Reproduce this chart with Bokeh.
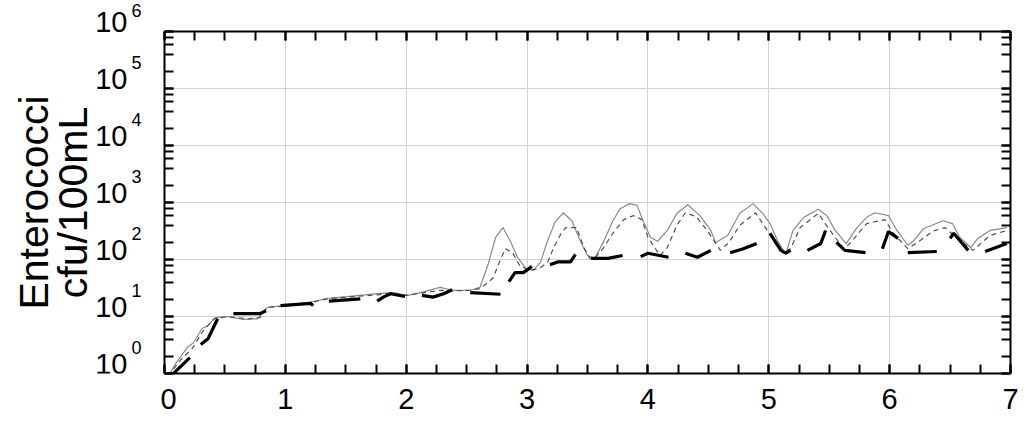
import math
from bokeh.plotting import figure
from bokeh.layouts import row
from bokeh.models import (Range1d, LinearAxis, LogAxis, SingleIntervalTicker, LogTicker,
                          CustomJSTickFormatter, Label)
from bokeh.core.properties import value
from bokeh.embed import file_html
from bokeh.resources import INLINE

nan = float("nan")

# x tick labels and y decade exponents
x_ticks = [0, 1, 2, 3, 4, 5, 6, 7]
y_tick_exponents = [0, 1, 2, 3, 4, 5, 6]
y_title_lines = ["Enterococci", "cfu/100mL"]

# Series A: thin gray solid line (log10 cfu/100mL)
days_a = [0.03, 0.10, 0.19, 0.24, 0.31, 0.36, 0.42, 0.52, 0.65, 0.77, 0.85, 0.98, 1.18, 1.35,
          1.51, 1.76, 1.89, 2.01, 2.12, 2.28, 2.39, 2.53, 2.61, 2.68, 2.74, 2.80, 2.86, 2.92,
          2.99, 3.05, 3.11, 3.17, 3.23, 3.30, 3.37, 3.44, 3.50, 3.56, 3.63, 3.71, 3.77, 3.85,
          3.91, 3.96, 4.02, 4.08, 4.16, 4.24, 4.33, 4.43, 4.52, 4.56, 4.66, 4.76, 4.87, 4.95,
          5.01, 5.08, 5.14, 5.20, 5.29, 5.41, 5.48, 5.55, 5.64, 5.73, 5.81, 5.88, 5.99, 6.06,
          6.15, 6.20, 6.28, 6.44, 6.52, 6.58, 6.67, 6.73, 6.83, 6.97]
log_a = [-0.05, 0.20, 0.46, 0.54, 0.79, 0.84, 0.98, 1.00, 0.95, 0.96, 1.16, 1.19, 1.24, 1.32,
         1.35, 1.40, 1.42, 1.37, 1.42, 1.51, 1.46, 1.46, 1.51, 1.93, 2.39, 2.56, 2.33, 2.04,
         1.84, 1.81, 1.95, 2.33, 2.65, 2.82, 2.68, 2.33, 2.07, 2.02, 2.30, 2.68, 2.89, 2.98,
         2.95, 2.68, 2.39, 2.32, 2.51, 2.81, 2.96, 2.77, 2.51, 2.30, 2.42, 2.81, 2.98, 2.81,
         2.63, 2.30, 2.09, 2.51, 2.74, 2.88, 2.77, 2.51, 2.28, 2.56, 2.74, 2.82, 2.77, 2.51,
         2.25, 2.33, 2.54, 2.68, 2.63, 2.39, 2.21, 2.37, 2.51, 2.56]

# Series B: thin dark dashed line
days_b = [0.03, 0.13, 0.23, 0.32, 0.41, 0.52, 0.69, 0.79, 0.85, 0.98, 1.18, 1.35, 1.51, 1.76,
          1.89, 2.01, 2.12, 2.28, 2.39, 2.53, 2.61, 2.68, 2.72, 2.77, 2.82, 2.88, 2.94, 3.03,
          3.10, 3.17, 3.22, 3.28, 3.32, 3.41, 3.47, 3.52, 3.56, 3.63, 3.71, 3.80, 3.88, 3.95,
          4.00, 4.10, 4.16, 4.24, 4.31, 4.40, 4.49, 4.60, 4.67, 4.76, 4.89, 4.96, 5.05, 5.12,
          5.18, 5.26, 5.41, 5.49, 5.62, 5.67, 5.81, 5.96, 6.03, 6.15, 6.25, 6.36, 6.46, 6.58,
          6.69, 6.83, 6.97]
log_b = [-0.05, 0.23, 0.44, 0.75, 0.96, 1.00, 0.96, 0.98, 1.16, 1.18, 1.23, 1.31, 1.34, 1.38,
         1.41, 1.37, 1.41, 1.46, 1.45, 1.46, 1.49, 1.60, 1.68, 1.95, 2.19, 2.12, 1.89, 1.81,
         1.84, 1.95, 2.21, 2.45, 2.56, 2.56, 2.21, 2.02, 2.02, 2.20, 2.46, 2.70, 2.77, 2.70,
         2.39, 2.07, 2.21, 2.60, 2.82, 2.75, 2.51, 2.16, 2.30, 2.60, 2.82, 2.60, 2.30, 2.12,
         2.19, 2.56, 2.81, 2.56, 2.19, 2.28, 2.63, 2.70, 2.46, 2.19, 2.33, 2.50, 2.56, 2.33,
         2.16, 2.42, 2.51]

# Series C: thick black broken line (nan = gap)
days_c = [0.05, 0.21, nan, 0.30, 0.36, 0.44, nan, 0.57, 0.79, 0.84, nan, 0.96, 1.21, 1.23, nan,
          1.36, 1.62, nan, 1.76, 1.81, 1.87, 1.99, nan, 2.13, 2.22, 2.31, 2.38, nan, 2.53, 2.78,
          nan, 2.85, 2.90, 2.97, 3.04, nan, 3.19, 3.26, 3.36, 3.40, nan, 3.53, 3.67, 3.79, nan,
          3.94, 4.00, 4.17, nan, 4.31, 4.41, 4.52, nan, 4.68, 4.79, 4.90, nan, 5.01, 5.10, 5.14,
          5.18, nan, 5.32, 5.43, 5.47, nan, 5.56, 5.63, 5.80, nan, 5.94, 5.99, 6.07, nan, 6.15,
          6.39, nan, 6.50, 6.53, 6.65, nan, 6.79, 6.97]
log_c = [-0.05, 0.28, nan, 0.51, 0.61, 0.96, nan, 1.05, 1.05, 1.10, nan, 1.19, 1.23, 1.19, nan,
         1.27, 1.31, nan, 1.27, 1.34, 1.40, 1.35, nan, 1.37, 1.34, 1.40, 1.47, nan, 1.42, 1.39,
         nan, 1.61, 1.77, 1.77, 1.88, nan, 1.91, 1.96, 1.96, 2.09, nan, 2.02, 2.02, 2.07, nan,
         2.05, 2.11, 2.04, nan, 2.11, 2.04, 2.16, nan, 2.12, 2.19, 2.28, nan, 2.46, 2.16, 2.11,
         2.16, nan, 2.16, 2.28, 2.51, nan, 2.30, 2.16, 2.12, nan, 2.19, 2.49, 2.37, nan, 2.12,
         2.14, nan, 2.37, 2.46, 2.16, nan, 2.14, 2.28]

def to_cfu(vals):
    return [nan if math.isnan(v) else 10 ** v for v in vals]

FONT = "Liberation Sans"
blank = CustomJSTickFormatter(code="return ''")

# layout (pixels)
W, H = 1024, 421
LAB_W = 160
TOP, BOTTOM = 31, 48

y_rng = (10 ** y_tick_exponents[0], 10 ** y_tick_exponents[-1])

# ---------------- main plot ----------------
p = figure(width=W - LAB_W, height=H, output_backend="svg", toolbar_location=None,
           x_range=Range1d(x_ticks[0], x_ticks[-1]), y_range=Range1d(*y_rng),
           y_axis_type="log", x_axis_location=None, y_axis_location=None,
           min_border_left=4, min_border_right=14, min_border_top=TOP, min_border_bottom=BOTTOM)
p.outline_line_color = None
p.background_fill_color = "white"
p.border_fill_color = "white"

xt = SingleIntervalTicker(interval=1, num_minor_ticks=4)
yt = LogTicker(desired_num_ticks=8)

def style(ax, tick_len=9):
    ax.axis_line_color = "black"
    ax.axis_line_width = 2
    ax.major_tick_in = tick_len
    ax.major_tick_out = 0
    ax.minor_tick_in = tick_len
    ax.minor_tick_out = 0
    ax.major_tick_line_width = 2
    ax.minor_tick_line_width = 2
    ax.major_tick_line_color = "black"
    ax.minor_tick_line_color = "black"

bottom = LinearAxis(ticker=xt)
style(bottom)
bottom.major_label_text_font = FONT
bottom.major_label_text_font_size = "29px"
bottom.major_label_text_color = "black"
bottom.major_label_standoff = 15
p.add_layout(bottom, "below")

top = LinearAxis(ticker=xt, formatter=blank, major_label_standoff=0)
style(top)
p.add_layout(top, "above")

left = LogAxis(ticker=yt, formatter=blank, major_label_standoff=0)
style(left)
p.add_layout(left, "left")

right = LogAxis(ticker=yt, formatter=blank, major_label_standoff=0)
style(right)
p.add_layout(right, "right")

p.xgrid.ticker = xt
p.ygrid.ticker = yt
p.xgrid.grid_line_color = "#d2d2d2"
p.ygrid.grid_line_color = "#d2d2d2"
p.xgrid.grid_line_width = 1
p.ygrid.grid_line_width = 1

p.line(days_a, to_cfu(log_a), line_color="#8a8a8a", line_width=1.2)
p.line(days_b, to_cfu(log_b), line_color="#505050", line_width=1.2, line_dash="5 4")
p.line(days_c, to_cfu(log_c), line_color="black", line_width=3.2)

# ---------------- left label strip (frame aligned with the main plot's frame) ----------------
lab = figure(width=LAB_W, height=H, output_backend="svg", toolbar_location=None,
             x_range=Range1d(0, LAB_W), y_range=Range1d(*y_rng),
             y_axis_type="log", x_axis_location=None, y_axis_location=None,
             min_border=0, min_border_left=0, min_border_right=0,
             min_border_top=0, min_border_bottom=0)
lab.title.visible = False
lab.outline_line_color = None
lab.xgrid.visible = False
lab.ygrid.visible = False
lab.background_fill_color = "white"
lab.border_fill_color = "white"

inner = y_tick_exponents[:-1]
n = len(inner)
lab.text(x=[127] * n, y=[10 ** e for e in inner], text=["10"] * n, y_offset=-10,
         text_align="right", text_baseline="alphabetic",
         text_font=value(FONT), text_font_size="29px", text_color="black")
lab.text(x=[131] * n, y=[10 ** e for e in inner],
         text=[str(e) for e in inner], y_offset=-26,
         text_align="left", text_baseline="alphabetic",
         text_font=value(FONT), text_font_size="18px", text_color="black")

# top decade label sits above the frame: use panel annotations (not clipped)
e_top = y_tick_exponents[-1]
lab.add_layout(Label(x=127, y=10 ** e_top, y_offset=10, text="10",
                     text_align="right", text_baseline="alphabetic",
                     text_font=FONT, text_font_size="29px", text_color="black"), "below")
lab.add_layout(Label(x=131, y=10 ** e_top, y_offset=21, text=str(e_top),
                     text_align="left", text_baseline="alphabetic",
                     text_font=FONT, text_font_size="18px", text_color="black"), "above")

mid = 10 ** ((y_tick_exponents[0] + y_tick_exponents[-1]) / 2)
lab.text(x=[33, 72], y=[mid, mid], text=y_title_lines, angle=math.pi / 2,
         text_align="center", text_baseline="alphabetic",
         text_font=value(FONT), text_font_size="41px", text_color="black")

layout = row(lab, p, spacing=0)
open("out.html", "w").write(file_html(layout, INLINE))
